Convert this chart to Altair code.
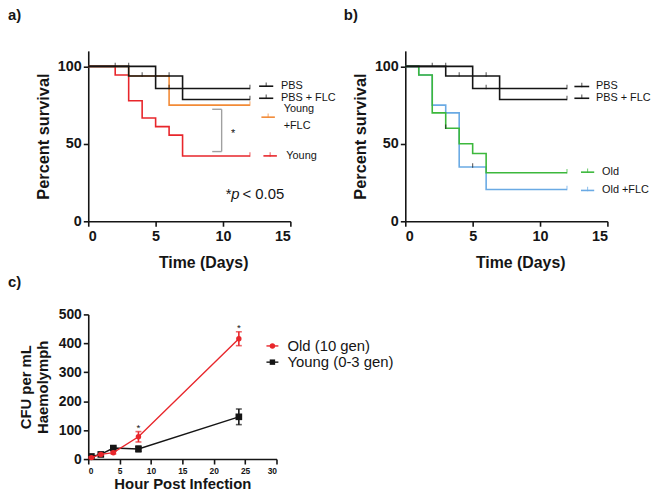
import altair as alt
import pandas as pd

FONT = "Liberation Sans"
BLACK = "#151515"
ORANGE = "#F28A36"
RED = "#E8262B"
GREEN = "#3CB83C"
BLUE = "#6AAAE4"
GREY = "#A0A0A0"

# ---------------- Panel a: survival (day, percent) ----------------
a_pbs_day = [0, 5, 12]
a_pbs_pct = [100, 85.7, 85.7]
a_pbsflc_day = [0, 3, 7, 12]
a_pbsflc_pct = [100, 93.8, 78.6, 78.6]
a_yflc_day = [0, 3, 6, 12]
a_yflc_pct = [100, 93.8, 75.0, 75.0]
a_young_day = [0, 2, 3, 4, 5, 6, 7, 12]
a_young_pct = [100, 94.4, 77.8, 66.7, 61.1, 55.6, 42.1, 42.1]
a_cens_day = [2, 3, 4, 6, 6, 12, 12, 12, 12]
a_cens_pct = [100, 100, 93.8, 93.8, 85.7, 85.7, 78.6, 75.0, 42.1]
a_cens_col = [BLACK, BLACK, BLACK, BLACK, BLACK, BLACK, BLACK, ORANGE, RED]
a_leg_sym_y = [87.2, 79.4, 67.2, 42.2]
a_leg_sym_x1 = [12.68, 12.68, 12.85, 13.0]
a_leg_sym_x2 = [13.73, 13.73, 13.85, 14.0]
a_leg_sym_col = [BLACK, BLACK, ORANGE, RED]
a_leg_text = ["PBS", "PBS + FLC", "Young", "+FLC", "Young"]
a_leg_text_x = [14.3, 14.3, 14.5, 14.5, 14.7]
a_leg_text_y = [87.2, 79.4, 72.6, 61.7, 42.2]

# ---------------- Panel b ----------------
b_pbs_day = [0, 5, 12]
b_pbs_pct = [100, 85.7, 85.7]
b_pbsflc_day = [0, 3, 7, 12]
b_pbsflc_pct = [100, 93.8, 78.6, 78.6]
b_old_day = [0, 1, 2, 3, 4, 5, 6, 12]
b_old_pct = [100, 94.4, 70.0, 60.0, 50.0, 43.8, 31.3, 31.3]
b_oldflc_day = [0, 1, 2, 3, 4, 6, 12]
b_oldflc_pct = [100, 94.4, 75.0, 70.0, 35.0, 20.5, 20.5]
b_cens_day = [2, 3, 4, 6, 6, 12, 12, 3, 5, 12, 12]
b_cens_pct = [100, 100, 93.8, 93.8, 85.7, 85.7, 78.6, 60.0, 35.0, 31.3, 20.5]
b_cens_col = [BLACK] * 7 + [BLACK, BLACK, GREEN, BLUE]
b_leg_sym_y = [87.0, 79.4, 31.7, 19.9]
b_leg_sym_x1 = [12.55, 12.55, 13.04, 13.04]
b_leg_sym_x2 = [13.65, 13.65, 14.02, 14.02]
b_leg_sym_col = [BLACK, BLACK, GREEN, BLUE]
b_leg_text = ["PBS", "PBS + FLC", "Old", "Old +FLC"]
b_leg_text_x = [14.15, 14.15, 14.6, 14.6]
b_leg_text_y = [87.0, 79.4, 31.7, 19.9]

# ---------------- Panel c: CFU ----------------
c_hours = [0.5, 2, 4, 8, 24]
c_old_mean = [5, 16, 22, 77, 416]
c_old_err = [3, 3, 4, 18, 24]
c_young_mean = [9, 16, 38, 35, 146]
c_young_err = [3, 3, 5, 10, 27]
c_star_hours = [8, 24]
c_star_y = [106, 454]
c_leg_names = ["Old (10 gen)", "Young (0-3 gen)"]
c_leg_y = [391, 335]
c_leg_colors = [RED, BLACK]
c_leg_shapes = ["circle", "square"]
c_x_ticks = [0, 5, 10, 15, 20, 25, 30]
c_y_ticks = [0, 100, 200, 300, 400, 500]

SX = alt.Scale(domain=[0, 15], nice=False, padding=0, zero=False)
SY = alt.Scale(domain=[0, 110], nice=False, padding=0, zero=False)
CX = alt.Scale(domain=[0, 30], nice=False, padding=0, zero=False)
CY = alt.Scale(domain=[0, 500], nice=False, padding=0, zero=False)

AX_A = alt.Axis(values=[0, 5, 10, 15], title="Time (Days)", labelFontSize=14.5,
                titleFontSize=16, titlePadding=12, labelPadding=3, titleX=116,
                labelOverlap=False)
AY_A = alt.Axis(values=[0, 50, 100], title="Percent survival", labelFontSize=14.5,
                titleFontSize=16.5, titlePadding=6, labelPadding=2, labelOverlap=False)
AX_C = alt.Axis(values=c_x_ticks, labelOverlap=False, title="Hour Post Infection",
                labelFontSize=8.5, titleFontSize=15, titlePadding=1, labelPadding=3)
AY_C = alt.Axis(values=c_y_ticks, labelOverlap=False,
                title=["CFU per mL", "Haemolymph"], labelFontSize=14,
                titleFontSize=15, titleLineHeight=16.5, titlePadding=8, labelPadding=2)


def sx(field="day"):
    return alt.X(f"{field}:Q", scale=SX, axis=AX_A)


def sy(field="pct"):
    return alt.Y(f"{field}:Q", scale=SY, axis=AY_A)


def cx(field="h"):
    return alt.X(f"{field}:Q", scale=CX, axis=AX_C)


def cy(field="v"):
    return alt.Y(f"{field}:Q", scale=CY, axis=AY_C)


def step(day, pct, color):
    df = pd.DataFrame({"day": day, "pct": pct})
    return alt.Chart(df).mark_line(interpolate="step-after", color=color,
                                   strokeWidth=1.6).encode(x=sx(), y=sy())


def censor(day, pct, col):
    df = pd.DataFrame({"day": day, "pct": pct, "col": col})
    return alt.Chart(df).mark_tick(orient="vertical", size=4.5, thickness=1.1,
                                   yOffset=-1.5).encode(
        x=sx(), y=sy(), color=alt.Color("col:N", scale=None))


def legend_syms(x1, x2, y, col):
    df = pd.DataFrame({"day": x1, "day2": x2, "pct": y, "col": col,
                       "mid": [(a + b) / 2 for a, b in zip(x1, x2)]})
    line = alt.Chart(df).mark_rule(strokeWidth=1.6).encode(
        x=sx(), x2="day2:Q", y=sy(), color=alt.Color("col:N", scale=None))
    tick = alt.Chart(df).mark_tick(orient="vertical", size=4.5, thickness=1.1,
                                   yOffset=-1.5).encode(
        x=sx("mid"), y=sy(), color=alt.Color("col:N", scale=None))
    return line + tick


def legend_text(texts, xs, ys):
    df = pd.DataFrame({"day": xs, "pct": ys, "t": texts})
    return alt.Chart(df).mark_text(align="left", baseline="middle", font=FONT,
                                   fontSize=11, color=BLACK).encode(
        x=sx(), y=sy(), text="t:N")


def panel_label(label, px, py):
    df = pd.DataFrame({"t": [label]})
    return alt.Chart(df).mark_text(align="left", baseline="middle", font=FONT,
                                   fontSize=15, fontWeight="bold", color=BLACK).encode(
        x=alt.value(px), y=alt.value(py), text="t:N")


def simple_text(day, pct, text, size, style="normal", align="left"):
    df = pd.DataFrame({"day": [day], "pct": [pct], "t": [text]})
    return alt.Chart(df).mark_text(align=align, baseline="middle", font=FONT,
                                   fontSize=size, fontStyle=style, color=BLACK).encode(
        x=sx(), y=sy(), text="t:N")


# ---- panel a ----
bracket_df = pd.DataFrame({"day": [9.2, 9.2, 9.9], "day2": [9.9, 9.9, 9.9],
                           "pct": [72.3, 45.0, 72.3], "pct2": [72.3, 45.0, 45.0]})
bracket = alt.Chart(bracket_df).mark_rule(color=GREY, strokeWidth=1.4).encode(
    x=sx(), x2="day2:Q", y=sy(), y2="pct2:Q")

panel_a = alt.layer(
    bracket,
    step(a_young_day, a_young_pct, RED),
    step(a_yflc_day, a_yflc_pct, ORANGE),
    step(a_pbsflc_day, a_pbsflc_pct, BLACK),
    step(a_pbs_day, a_pbs_pct, BLACK),
    censor(a_cens_day, a_cens_pct, a_cens_col),
    legend_syms(a_leg_sym_x1, a_leg_sym_x2, a_leg_sym_y, a_leg_sym_col),
    legend_text(a_leg_text, a_leg_text_x, a_leg_text_y),
    simple_text(10.76, 56.5, "*", 11, align="center"),
    simple_text(10.2, 17.8, "*", 15),
    simple_text(10.62, 17.8, "p", 15, style="italic"),
    simple_text(11.45, 17.8, "< 0.05", 15),
    panel_label("a)", -81, -36),
).properties(width=204, height=172)

panel_b = alt.layer(
    step(b_oldflc_day, b_oldflc_pct, BLUE),
    step(b_old_day, b_old_pct, GREEN),
    step(b_pbsflc_day, b_pbsflc_pct, BLACK),
    step(b_pbs_day, b_pbs_pct, BLACK),
    censor(b_cens_day, b_cens_pct, b_cens_col),
    legend_syms(b_leg_sym_x1, b_leg_sym_x2, b_leg_sym_y, b_leg_sym_col),
    legend_text(b_leg_text, b_leg_text_x, b_leg_text_y),
    panel_label("b)", -62, -36),
).properties(width=204, height=172)


# ---- panel c ----
def c_series(mean, err, color, shape, size):
    df = pd.DataFrame({"h": c_hours, "v": mean,
                       "lo": [m - e for m, e in zip(mean, err)],
                       "hi": [m + e for m, e in zip(mean, err)]})
    line = alt.Chart(df).mark_line(color=color, strokeWidth=1.4).encode(x=cx(), y=cy())
    bar = alt.Chart(df).mark_rule(color=color, strokeWidth=1.6).encode(
        x=cx(), y=cy("lo"), y2="hi:Q")
    cap_lo = alt.Chart(df).mark_tick(orient="horizontal", size=6, thickness=1.6,
                                     color=color).encode(x=cx(), y=cy("lo"))
    cap_hi = alt.Chart(df).mark_tick(orient="horizontal", size=6, thickness=1.6,
                                     color=color).encode(x=cx(), y=cy("hi"))
    pts = alt.Chart(df).mark_point(filled=True, shape=shape, size=size, color=color,
                                   opacity=1).encode(x=cx(), y=cy())
    return [line, bar, cap_lo, cap_hi, pts]


star_df = pd.DataFrame({"h": c_star_hours, "v": c_star_y, "t": ["*", "*"]})
stars = alt.Chart(star_df).mark_text(font=FONT, fontSize=10, color=BLACK,
                                     baseline="middle").encode(x=cx(), y=cy(), text="t:N")

leg_df = pd.DataFrame({"h": [28.4] * 2, "h2": [30.3] * 2, "hm": [29.35] * 2,
                       "hl": [31.75] * 2, "v": c_leg_y, "name": c_leg_names,
                       "col": c_leg_colors, "shape": c_leg_shapes})
leg_line = alt.Chart(leg_df).mark_rule(strokeWidth=1.4).encode(
    x=cx(), x2="h2:Q", y=cy(), color=alt.Color("col:N", scale=None))
leg_pts = alt.Chart(leg_df).mark_point(filled=True, opacity=1, size=30).encode(
    x=cx("hm"), y=cy(), color=alt.Color("col:N", scale=None),
    shape=alt.Shape("shape:N", scale=None))
leg_txt = alt.Chart(leg_df).mark_text(align="left", baseline="middle", font=FONT,
                                      fontSize=15, color=BLACK).encode(
    x=cx("hl"), y=cy(), text="name:N")

c_label = alt.Chart(pd.DataFrame({"t": ["c)"]})).mark_text(
    align="left", baseline="middle", font=FONT, fontSize=15, fontWeight="bold",
    color=BLACK).encode(x=alt.value(-81), y=alt.value(-33), text="t:N")

panel_c = alt.layer(
    *c_series(c_young_mean, c_young_err, BLACK, "square", 45),
    *c_series(c_old_mean, c_old_err, RED, "circle", 30),
    stars, leg_line, leg_pts, leg_txt, c_label,
).properties(width=190, height=146)

chart = alt.concat(
    panel_a, panel_b, panel_c, columns=2, bounds="flush",
    spacing=alt.RowColnumber(row=94, column=116)
).properties(
    padding={"left": 0, "top": -2, "right": 0, "bottom": 0}
).configure_view(stroke=None).configure_axis(
    domainColor=BLACK, domainWidth=1.6, tickColor=BLACK, tickWidth=1.6, tickSize=5,
    grid=False, labelFont=FONT, labelFontWeight="bold", labelColor=BLACK,
    titleFont=FONT, titleFontWeight="bold", titleColor=BLACK, labelOverlap=False
)

chart.save("out.html", embed_options={"renderer": "svg", "actions": False})
